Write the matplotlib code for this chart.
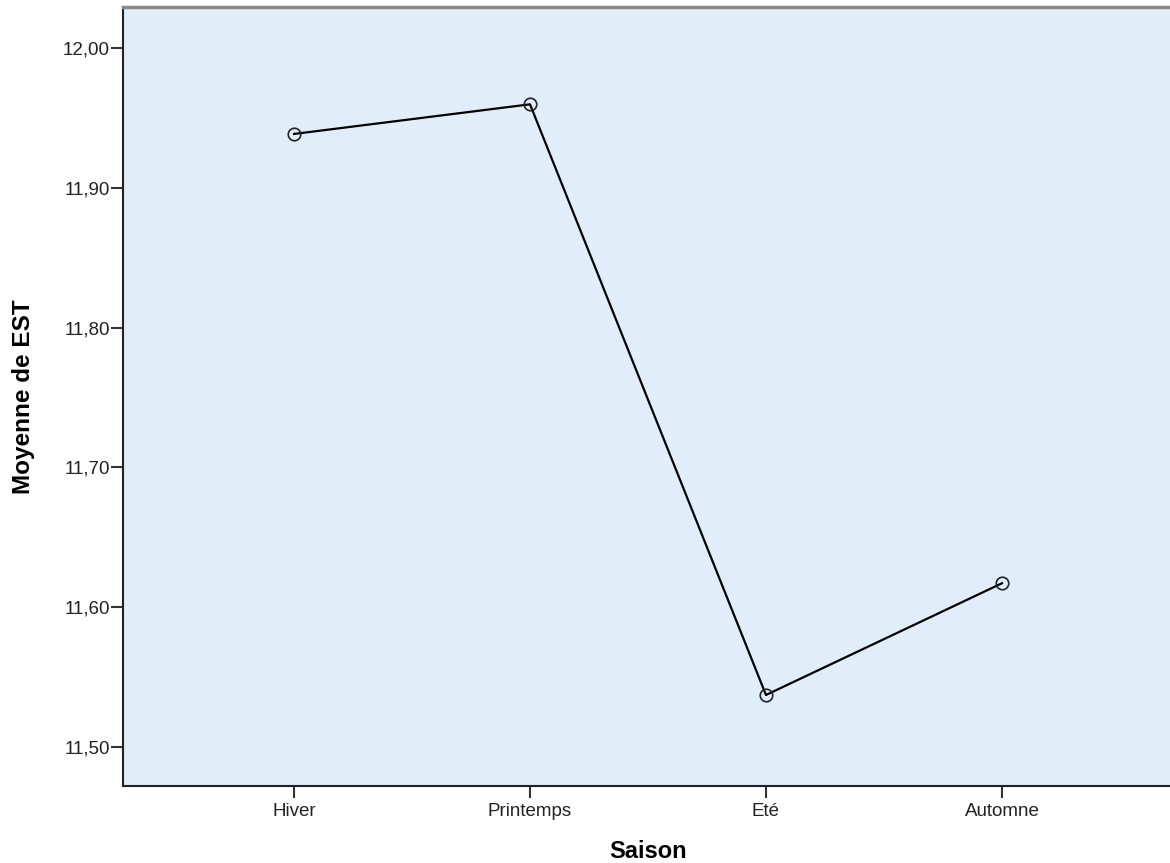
import matplotlib.pyplot as plt

saisons = ['Hiver', 'Printemps', 'Eté', 'Automne']
moyennes = [11.9385, 11.9597, 11.5372, 11.6171]
yticks = [11.50, 11.60, 11.70, 11.80, 11.90, 12.00]

plt.rcParams['font.family'] = ['Liberation Sans', 'DejaVu Sans']

fig = plt.figure(figsize=(11.7, 8.63), dpi=100)
ax = fig.add_axes([123 / 1170, 77 / 863, 1050 / 1170, 779 / 863])
ax.set_facecolor('#e1eefa')

x = list(range(len(saisons)))
ax.plot(x, moyennes, color='black', linewidth=1.6, marker='o', markersize=9,
        markerfacecolor='none', markeredgecolor='#222222', markeredgewidth=1.2)

ax.set_xlim(-0.725, 3.725)
ax.set_ylim(11.4721, 12.0293)
ax.set_xticks(x)
ax.set_xticklabels(saisons)
ax.set_yticks(yticks)
ax.set_yticklabels([('%.2f' % v).replace('.', ',') for v in yticks])

ax.tick_params(axis='both', length=8.5, width=1.5, color='#333333', labelsize=13.5, labelcolor='#222222')
ax.tick_params(axis='x', pad=4)
ax.tick_params(axis='y', pad=1)

ax.spines['right'].set_visible(False)
ax.spines['top'].set_color('#888888')
ax.spines['top'].set_linewidth(2.5)
ax.spines['left'].set_color('#222222')
ax.spines['left'].set_linewidth(1.5)
ax.spines['bottom'].set_color('#222222')
ax.spines['bottom'].set_linewidth(1.5)

ax.set_xlabel('Saison', fontsize=17, fontweight='bold', labelpad=14)
ax.set_ylabel('Moyenne de EST', fontsize=17.5, fontweight='bold', labelpad=20)

fig.savefig('out.png', dpi=100)
